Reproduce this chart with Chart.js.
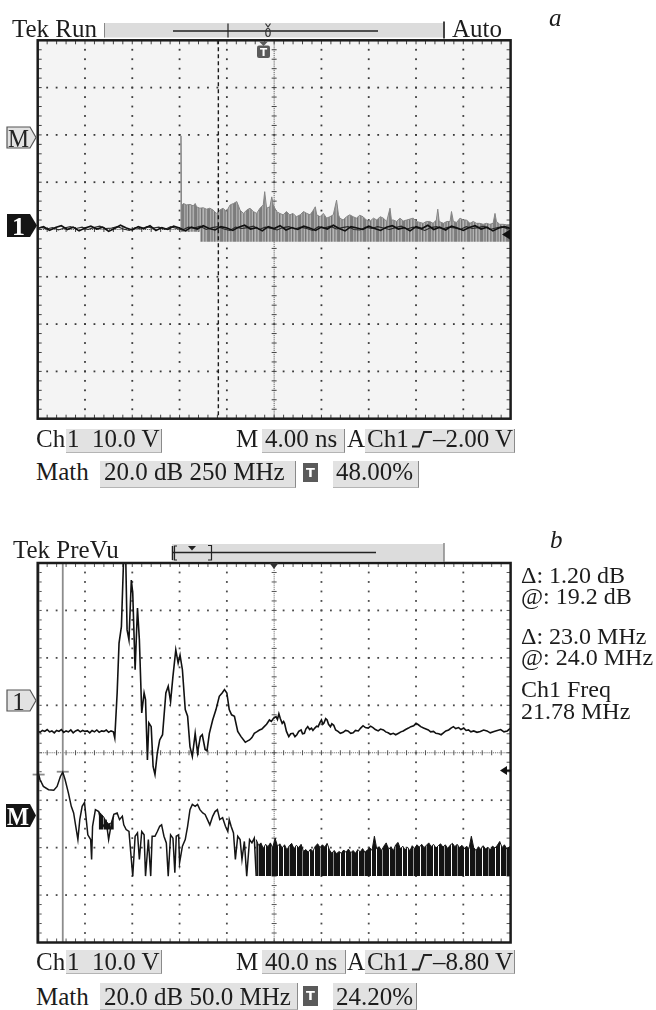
<!DOCTYPE html>
<html>
<head>
<meta charset="utf-8">
<title>Tek scope captures a / b</title>
<script src="https://cdn.jsdelivr.net/npm/chart.js@4.4.1/dist/chart.umd.min.js"></script>
<style>
  html, body { margin: 0; padding: 0; background: #fff; }
  body {
    width: 656px; height: 1010px; position: relative; overflow: hidden;
    font-family: "Liberation Serif", "Times New Roman", serif; color: #1c1c1c;
  }
  canvas { position: absolute; left: 0; }
  .t { position: absolute; font-size: 25px; line-height: 25px; white-space: pre; }
  .r { font-size: 24px; line-height: 24px; }
  .it { font-style: italic; }
  .box {
    position: absolute; background: #e2e2e2;
    border-right: 1.5px solid #8a8a8a; border-bottom: 1px solid #b4b4b4;
  }
  .ticon {
    position: absolute; width: 15px; background: #5a5a5a; color: #fff;
    font: bold 13px "DejaVu Sans", sans-serif; text-align: center;
  }
  svg.deco { position: absolute; left: 0; top: 0; }
</style>
</head>
<body>

<canvas id="scopeA" width="656" height="430" style="top:0"></canvas>
<canvas id="scopeB" width="656" height="440" style="top:520px"></canvas>

<!-- panel a texts -->
<div class="t" style="left:12px;top:16px">Tek Run</div>
<div class="t" style="left:452px;top:16px">Auto</div>
<div class="t it" style="left:549px;top:5px">a</div>

<div class="t" style="left:36px;top:426px">Ch</div>
<div class="box" style="left:66px;top:428.5px;width:95px;height:23px"></div>
<div class="t" style="left:67px;top:426px">1  10.0 V</div>
<div class="t" style="left:236px;top:426px">M</div>
<div class="box" style="left:261.5px;top:428.5px;width:82px;height:23px"></div>
<div class="t" style="left:265px;top:426px">4.00 ns</div>
<div class="t" style="left:347px;top:426px">A</div>
<div class="box" style="left:365px;top:428.5px;width:149px;height:23px"></div>
<div class="t" style="left:367px;top:426px">Ch1</div>
<div class="t" style="left:433px;top:426px">–2.00 V</div>

<div class="t" style="left:36px;top:459px">Math</div>
<div class="box" style="left:100px;top:460.5px;width:195px;height:26px"></div>
<div class="t" style="left:104px;top:459px">20.0 dB 250 MHz</div>
<div class="ticon" style="left:303px;top:463px;height:19px;line-height:19px">T</div>
<div class="box" style="left:333px;top:460.5px;width:85px;height:26px"></div>
<div class="t" style="left:336px;top:459px">48.00%</div>

<!-- panel b texts -->
<div class="t" style="left:13px;top:537px">Tek PreVu</div>
<div class="t it" style="left:550px;top:527px">b</div>

<div class="t r" style="left:521px;top:563px">Δ: 1.20 dB</div>
<div class="t r" style="left:521px;top:583.5px">@: 19.2 dB</div>
<div class="t r" style="left:521px;top:624px">Δ: 23.0 MHz</div>
<div class="t r" style="left:521px;top:645px">@: 24.0 MHz</div>
<div class="t r" style="left:521px;top:677px">Ch1 Freq</div>
<div class="t r" style="left:521px;top:699px">21.78 MHz</div>

<div class="t" style="left:36px;top:949px">Ch</div>
<div class="box" style="left:66px;top:949.5px;width:95px;height:23px"></div>
<div class="t" style="left:67px;top:949px">1  10.0 V</div>
<div class="t" style="left:236px;top:949px">M</div>
<div class="box" style="left:261.5px;top:949.5px;width:83px;height:23px"></div>
<div class="t" style="left:265px;top:949px">40.0 ns</div>
<div class="t" style="left:347px;top:949px">A</div>
<div class="box" style="left:365px;top:949.5px;width:149px;height:23px"></div>
<div class="t" style="left:367px;top:949px">Ch1</div>
<div class="t" style="left:433px;top:949px">–8.80 V</div>

<div class="t" style="left:36px;top:984px">Math</div>
<div class="box" style="left:100px;top:983px;width:197px;height:26px"></div>
<div class="t" style="left:104px;top:984px">20.0 dB 50.0 MHz</div>
<div class="ticon" style="left:303px;top:986px;height:20px;line-height:20px">T</div>
<div class="box" style="left:333px;top:983px;width:83px;height:26px"></div>
<div class="t" style="left:336px;top:984px">24.20%</div>

<svg class="deco" width="656" height="1010" viewBox="0 0 656 1010">
  <!-- panel a record bar -->
  <rect x="104" y="23" width="340" height="14.5" fill="#dcdcdc"/>
  <line x1="104.5" y1="23" x2="104.5" y2="37.5" stroke="#888" stroke-width="1"/>
  <line x1="444" y1="21.5" x2="444" y2="38.5" stroke="#444" stroke-width="2"/>
  <line x1="173" y1="31" x2="378" y2="31" stroke="#222" stroke-width="1.4"/>
  <line x1="228" y1="23.5" x2="228" y2="37.5" stroke="#222" stroke-width="1.2"/>
  <path d="M265.5 23.5 L268 27 L270.5 23.5" stroke="#333" fill="none" stroke-width="1.2"/>
  <ellipse cx="268" cy="32.5" rx="2.2" ry="4" stroke="#333" fill="none" stroke-width="1.2"/>
  <!-- panel a trigger flag -->
  <path d="M259 41.5 H268 L263.5 46 Z" fill="#5a5a5a"/>
  <rect x="257" y="45.5" width="13" height="12.5" rx="2" fill="#5a5a5a"/>
  <text x="263.5" y="56" font-family="DejaVu Sans" font-weight="bold" font-size="10.5" fill="#fff" text-anchor="middle">T</text>
  <!-- panel a channel markers -->
  <polygon points="7,127 30,127 36,137.5 30,148 7,148" fill="#e2e2e2" stroke="#555" stroke-width="1.2"/>
  <text x="18.5" y="146.5" font-family="Liberation Serif" font-size="26" fill="#222" text-anchor="middle" textLength="21" lengthAdjust="spacingAndGlyphs">M</text>
  <polygon points="7,214 30,214 37,225.5 30,237 7,237" fill="#151515"/>
  <text x="18.5" y="234.5" font-family="Liberation Serif" font-weight="bold" font-size="26" fill="#fff" text-anchor="middle">1</text>
  <polygon points="502,234.5 510,229.5 510,239.5" fill="#111"/>
  <!-- panel a trigger slope -->
  <polyline points="412,446.5 419,446.5 424,432 432,432" fill="none" stroke="#222" stroke-width="2"/>

  <!-- panel b record bar -->
  <rect x="172" y="544" width="272" height="17" fill="#dcdcdc"/>
  <line x1="444" y1="543" x2="444" y2="562" stroke="#888" stroke-width="1.5"/>
  <line x1="172" y1="552.5" x2="376" y2="552.5" stroke="#222" stroke-width="1.4"/>
  <line x1="172.5" y1="546" x2="172.5" y2="560" stroke="#222" stroke-width="1.5"/>
  <path d="M177 546 H174.5 V560 H177" stroke="#222" fill="none" stroke-width="1.2"/>
  <path d="M188 546 H196 L192 550.5 Z" fill="#222"/>
  <path d="M208 545.5 H211.5 V560 H208" stroke="#222" fill="none" stroke-width="1.2"/>
  <!-- panel b trigger point -->
  <path d="M269.5 563 H278.5 L274 569 Z" fill="#333"/>
  <!-- panel b channel markers -->
  <polygon points="7,690 30,690 36,700.5 30,711 7,711" fill="#e2e2e2" stroke="#555" stroke-width="1.2"/>
  <text x="18.5" y="709.5" font-family="Liberation Serif" font-size="25" fill="#222" text-anchor="middle">1</text>
  <polygon points="6,804 30,804 36,815.5 30,827 6,827" fill="#151515"/>
  <text x="18" y="825" font-family="Liberation Serif" font-weight="bold" font-size="26" fill="#fff" text-anchor="middle" textLength="22" lengthAdjust="spacingAndGlyphs">M</text>
  <polygon points="500,770.5 507,766 507,775" fill="#111"/>
  <line x1="507" y1="770.5" x2="511" y2="770.5" stroke="#111" stroke-width="2"/>
  <!-- panel b trigger slope -->
  <polyline points="412,969.5 419,969.5 424,955 432,955" fill="none" stroke="#222" stroke-width="2"/>
</svg>

<script>
// All traces are in screen divisions: x 0..10, y -4..+4 (centre line = 0)

// ---- panel a : Ch1 (black) and Math FFT (grey) ----
const ch1aStep = 0.125;
const ch1aV1 = [
  0.02, 0.06, -0.02, 0.04, 0.08, 0.00, 0.05, -0.03, 0.03, 0.07,
  0.01, 0.05, -0.04, 0.02, 0.09, 0.03, -0.01, 0.06, 0.02, 0.08,
  -0.02, 0.04, 0.00, 0.07, 0.03, -0.03, 0.05, 0.01, 0.08, 0.02,
  -0.01, 0.06, 0.03, -0.02, 0.05, 0.09, 0.01, 0.04, -0.03, 0.06,
  0.02, 0.08, -0.01, 0.04, 0.00, 0.07, 0.03, -0.02, 0.05, 0.01,
  0.09, 0.02, -0.03, 0.06, 0.03, 0.00, 0.07, 0.02, -0.02, 0.05,
  0.08, 0.01, 0.04, -0.03, 0.06, 0.02, 0.09, 0.00, 0.05, -0.01,
  0.07, 0.03, -0.02, 0.04, 0.08, 0.01, 0.05, -0.03, 0.03, 0.06,
  0.02
];
const ch1aV2 = [
  0.05, 0.01, 0.04, -0.01, 0.03, 0.06, 0.02, 0.05, 0.00, 0.04,
  0.07, 0.02, 0.03, 0.06, 0.01, -0.02, 0.04, 0.01, 0.06, 0.03,
  0.05, 0.00, 0.06, 0.02, -0.01, 0.05, 0.03, 0.07, 0.00, 0.04,
  0.06, 0.01, -0.02, 0.05, 0.02, 0.04, 0.07, 0.00, 0.05, 0.02,
  -0.01, 0.04, 0.06, 0.01, 0.05, 0.02, -0.02, 0.06, 0.03, 0.07,
  0.01, 0.04, 0.06, 0.00, -0.01, 0.05, 0.02, 0.06, 0.03, 0.00,
  0.04, 0.07, 0.01, 0.05, 0.02, -0.02, 0.04, 0.06, 0.01, 0.05,
  0.03, 0.00, 0.06, 0.02, 0.04, 0.07, 0.00, 0.03, 0.06, 0.01,
  0.04
];
const mathAFloor = [-0.05, -0.26];
const mathAX1 = [3.01, 3.03, 3.04, 3.08, 3.15, 3.22, 3.29, 3.33, 3.36, 3.43];
const mathAV1 = [-0.05, 1.98, 0.50, 0.55, 0.52, 0.53, 0.50, 0.55, 0.48, 0.45];
const mathAX2 = [
  3.43, 3.50, 3.57, 3.64, 3.71, 3.78, 3.85, 3.92, 3.99, 4.07,
  4.14, 4.21, 4.28, 4.35, 4.42, 4.49, 4.56, 4.63, 4.70, 4.77,
  4.80, 4.84, 4.91, 4.95, 4.98,
  5.05, 5.12, 5.19, 5.26, 5.33, 5.40, 5.47, 5.55, 5.62, 5.69, 5.76, 5.83,
  5.87, 5.90, 5.97, 6.04, 6.11, 6.18, 6.25, 6.32, 6.36, 6.39,
  6.46, 6.53, 6.60, 6.67, 6.74, 6.81, 6.88, 6.95, 7.02, 7.10,
  7.17, 7.24, 7.31, 7.38, 7.45, 7.48, 7.52, 7.59, 7.66, 7.73,
  7.80, 7.87, 7.94, 8.01, 8.08, 8.15, 8.22, 8.29, 8.36, 8.43,
  8.46, 8.49, 8.58, 8.65, 8.72, 8.75, 8.79, 8.86, 8.93, 9.00,
  9.07, 9.14, 9.21, 9.28, 9.35, 9.42, 9.49, 9.56, 9.63, 9.67,
  9.70, 9.77, 9.84, 9.91, 10.0
];
const mathAV2 = [
  0.45, 0.46, 0.43, 0.45, 0.41, 0.34, 0.41, 0.45, 0.38, 0.52,
  0.55, 0.59, 0.41, 0.34, 0.41, 0.45, 0.38, 0.34, 0.45, 0.52,
  0.80, 0.45, 0.48, 0.69, 0.52,
  0.38, 0.34, 0.31, 0.38, 0.31, 0.34, 0.27, 0.31, 0.38, 0.34, 0.31, 0.41,
  0.48, 0.31, 0.27, 0.34, 0.24, 0.27, 0.31, 0.62, 0.31, 0.24,
  0.20, 0.27, 0.31, 0.27, 0.24, 0.30, 0.27, 0.20, 0.17, 0.24,
  0.20, 0.27, 0.24, 0.17, 0.45, 0.20, 0.20, 0.17, 0.24, 0.18,
  0.20, 0.22, 0.24, 0.17, 0.15, 0.13, 0.17, 0.17, 0.13, 0.20,
  0.43, 0.17, 0.13, 0.17, 0.17, 0.38, 0.17, 0.15, 0.24, 0.20,
  0.20, 0.13, 0.17, 0.13, 0.13, 0.11, 0.13, 0.11, 0.13, 0.34,
  0.17, 0.11, 0.11, 0.10, 0.10
];
const triggerLineA = 3.82;

// ---- panel b : Ch1 ring-down (upper) and Math FFT (lower) ----
const ch1bT = [
  0.00, 0.05, 0.10, 0.15, 0.20, 0.25, 0.30, 0.35, 0.40, 0.45,
  0.50, 0.55, 0.60, 0.65, 0.70, 0.75, 0.80, 0.85, 0.90, 0.95,
  1.00, 1.05, 1.10, 1.15, 1.20, 1.25, 1.30, 1.35, 1.40, 1.45,
  1.50, 1.55,
  1.60, 1.63, 1.68, 1.72, 1.77, 1.82, 1.86, 1.89, 1.93, 1.98,
  2.01, 2.06, 2.11, 2.15, 2.20, 2.25, 2.28, 2.32, 2.35, 2.40,
  2.44, 2.48, 2.53, 2.58, 2.64, 2.71, 2.76, 2.81, 2.86, 2.92,
  2.97, 3.01, 3.06, 3.12, 3.17, 3.22, 3.27, 3.33, 3.38, 3.44,
  3.48, 3.54, 3.58, 3.63, 3.70, 3.77, 3.84, 3.90, 3.95, 4.00,
  4.05, 4.10, 4.16, 4.23, 4.30,
  4.39, 4.44, 4.48, 4.53, 4.58, 4.63, 4.69, 4.74, 4.79, 4.84,
  4.90, 4.94, 4.99, 5.04, 5.07, 5.10, 5.13, 5.17, 5.20, 5.22,
  5.26, 5.31, 5.35, 5.40, 5.44, 5.48, 5.52, 5.57, 5.60, 5.64,
  5.67, 5.71, 5.75, 5.79, 5.82, 5.86, 5.90, 5.93, 5.97, 6.00,
  6.03, 6.05, 6.09, 6.12, 6.15, 6.19, 6.22, 6.26, 6.30, 6.35,
  6.40, 6.46, 6.51, 6.56, 6.62, 6.67, 6.72, 6.78, 6.83, 6.88,
  6.93, 6.99, 7.04, 7.09, 7.14, 7.20, 7.25, 7.31, 7.36, 7.41,
  7.46, 7.52, 7.57, 7.63, 7.68, 7.73, 7.78, 7.84, 7.89, 7.95,
  8.00, 8.05, 8.10, 8.16, 8.21, 8.26, 8.31, 8.37, 8.42, 8.48,
  8.53, 8.58, 8.63, 8.69, 8.74, 8.79, 8.84, 8.90, 8.95, 9.01,
  9.06, 9.11, 9.16, 9.22, 9.29, 9.36, 9.43, 9.50, 9.57, 9.65,
  9.72, 9.79, 9.86, 9.93, 10.00
];
const ch1bV = [
  0.46, 0.43, 0.47, 0.45, 0.49, 0.44, 0.46, 0.42, 0.47, 0.45,
  0.49, 0.43, 0.46, 0.44, 0.48, 0.42, 0.46, 0.48, 0.44, 0.47,
  0.45, 0.46, 0.42, 0.47, 0.44, 0.48, 0.43, 0.46, 0.45, 0.48,
  0.43, 0.46,
  0.44, 0.31, 1.26, 2.31, 2.66, 4.20, 4.20, 2.59, 2.38, 3.64,
  3.36, 1.75, 3.05, 2.38, 0.84, 1.26, 1.12, -0.15, 0.63, 0.55,
  -0.29, -0.46, 0.00, 0.27, 0.38, 1.26, 1.40, 1.08, 1.61, 2.17,
  1.89, 2.06, 1.75, 0.91, 0.77, 0.13, -0.08, 0.41, 0.00, 0.34,
  0.38, 0.07, 0.04, 0.41, 0.69, 0.91, 1.19, 1.26, 1.33, 1.26,
  0.91, 0.80, 0.77, 0.45, 0.34,
  0.22, 0.25, 0.27, 0.32, 0.41, 0.44, 0.48, 0.50, 0.55, 0.60,
  0.69, 0.66, 0.73, 0.76, 0.70, 0.82, 0.72, 0.62, 0.66, 0.62,
  0.45, 0.34, 0.40, 0.41, 0.34, 0.38, 0.45, 0.48, 0.40, 0.41,
  0.50, 0.55, 0.49, 0.52, 0.47, 0.52, 0.56, 0.55, 0.64, 0.69,
  0.60, 0.62, 0.72, 0.69, 0.60, 0.55, 0.61, 0.58, 0.48, 0.45,
  0.41, 0.43, 0.47, 0.46, 0.41, 0.42, 0.47, 0.46, 0.52, 0.57,
  0.53, 0.52, 0.56, 0.53, 0.49, 0.46, 0.50, 0.48, 0.44, 0.42,
  0.39, 0.41, 0.38, 0.41, 0.44, 0.46, 0.49, 0.52, 0.55, 0.57,
  0.62, 0.59, 0.55, 0.52, 0.50, 0.48, 0.44, 0.45, 0.41, 0.40,
  0.38, 0.42, 0.46, 0.48, 0.52, 0.55, 0.51, 0.53, 0.49, 0.52,
  0.47, 0.48, 0.44, 0.46, 0.43, 0.45, 0.48, 0.46, 0.42, 0.45,
  0.47, 0.49, 0.44, 0.46, 0.52
];
const mathBX1 = [
  0.00, 0.02, 0.05, 0.12, 0.23, 0.34, 0.41, 0.48, 0.53, 0.58,
  0.65, 0.71, 0.76, 0.80, 0.85, 0.89, 0.94, 0.99, 1.02, 1.06,
  1.12, 1.14, 1.16, 1.22, 1.29, 1.35, 1.40, 1.45, 1.50, 1.56,
  1.61, 1.68, 1.73, 1.79, 1.82, 1.87, 1.93, 1.98, 2.01, 2.06,
  2.11, 2.15, 2.20, 2.25, 2.28, 2.34, 2.39, 2.42, 2.48, 2.53,
  2.58, 2.62, 2.67, 2.72, 2.76, 2.81, 2.86, 2.90, 2.93, 2.98,
  3.00, 3.06, 3.12, 3.17, 3.22, 3.27, 3.33, 3.38, 3.43, 3.49,
  3.54, 3.59, 3.64, 3.70, 3.75, 3.80, 3.85, 3.91, 3.97, 4.02,
  4.05, 4.09, 4.14, 4.18, 4.23, 4.28, 4.32, 4.37, 4.42, 4.48,
  4.53, 4.58, 4.62
];
const mathBV1 = [
  -0.84, -0.46, -0.57, -0.71, -0.78, -0.79, -0.71, -0.50, -0.41, -0.57,
  -0.85, -1.13, -1.27, -1.52, -1.83, -1.41, -1.13, -1.05, -1.34, -1.73,
  -1.83, -2.25, -1.55, -1.20, -1.24, -1.48, -1.55, -1.45, -1.83, -1.48,
  -1.30, -1.27, -1.41, -1.34, -1.52, -1.62, -1.66, -2.25, -2.60, -1.76,
  -1.69, -2.25, -1.66, -1.73, -2.60, -1.83, -2.60, -1.76, -1.76, -1.66,
  -1.55, -1.52, -1.76, -1.90, -2.60, -1.73, -1.80, -2.53, -1.76, -1.73,
  -2.32, -1.97, -1.83, -1.55, -1.20, -1.09, -1.13, -1.09, -1.20, -1.27,
  -1.30, -1.41, -1.52, -1.34, -1.24, -1.20, -1.41, -1.37, -1.55, -1.66,
  -1.41, -1.55, -1.69, -2.25, -1.76, -1.83, -2.25, -1.87, -2.60, -1.83,
  -1.90, -1.80, -2.60
];
// dark blocks under the Math trace where it flickers between levels
const mathBBlockX = [1.29, 1.35, 1.40, 1.45, 1.50, 1.56, 1.61];
const mathBBlockTop = [-1.24, -1.30, -1.36, -1.45, -1.50, -1.48, -1.34];
const mathBBlockBottom = -1.62;
// noise floor band: top envelope sampled every 0.05 div from 4.62, floor at -2.60
const mathBBandStart = 4.62;
const mathBBandStep = 0.05;
const mathBFloor = -2.60;
const mathBBand = [
  -1.83, -1.95, -1.90, -2.02, -1.93, -1.98, -1.90, -2.00, -1.80, -1.97,
  -1.92, -2.01, -1.94, -2.05, -1.96, -1.91, -2.03, -1.95, -2.00, -1.93,
  -2.08, -2.04, -2.10, -2.03, -2.08, -1.97, -1.92, -2.00, -1.94, -1.99,
  -1.91, -2.05, -2.12, -2.06, -2.13, -2.08, -2.12, -2.05, -2.10, -2.03,
  -2.11, -2.06, -2.12, -2.04, -2.09, -2.02, -2.10, -2.05, -2.00, -2.06,
  -1.76, -2.03, -1.98, -2.06, -1.97, -1.90, -2.04, -1.98, -2.07, -1.94,
  -1.89, -2.03, -1.97, -2.05, -1.99, -2.07, -1.96, -2.02, -1.94, -1.99,
  -1.93, -2.00, -1.95, -1.90, -1.98, -1.93, -2.01, -1.96, -1.92, -1.99,
  -1.94, -2.02, -1.95, -1.91, -1.98, -1.93, -2.00, -1.95, -2.03, -1.97,
  -2.02, -1.76, -2.00, -2.06, -1.98, -2.04, -1.96, -2.03, -1.99, -2.05,
  -1.97, -2.01, -1.95, -1.87, -2.00, -1.94, -2.03, -1.98, -2.00
];
// cursors (1 MHz and 24 MHz) and the levels they read on the Math trace
const cursorX = [0.02, 0.53];
const cursorLevel = [-0.46, -0.40];

function pts(xs, ys) {
  return ys.map((v, i) => ({ x: xs[i], y: v }));
}
function sampled(x0, step, ys) {
  return ys.map((v, i) => ({ x: x0 + i * step, y: v }));
}

// vertical stripe pattern, looks like the scope's dense sample lines
function stripes(cols) {
  const c = document.createElement('canvas');
  c.width = cols.length;
  c.height = 1;
  const g = c.getContext('2d');
  cols.forEach((col, i) => { g.fillStyle = col; g.fillRect(i, 0, 1, 1); });
  return g.createPattern(c, 'repeat');
}

// oscilloscope graticule, frame and cursor marks
const scopeGrid = {
  id: 'scopeGrid',
  beforeDraw(chart, args, o) {
    const { ctx, chartArea: a } = chart;
    ctx.save();
    ctx.fillStyle = o.background;
    ctx.fillRect(a.left, a.top, a.right - a.left, a.bottom - a.top);
    ctx.restore();
  },
  beforeDatasetsDraw(chart, args, o) {
    const { ctx, chartArea: a, scales: { x, y } } = chart;
    const px = v => x.getPixelForValue(v);
    const py = v => y.getPixelForValue(v);
    ctx.save();
    ctx.fillStyle = o.dotColor;
    for (let i = 1; i < 10; i++) {
      if (i === 5) continue;
      for (let k = 1; k < 40; k++) ctx.fillRect(px(i) - 0.9, py(-4 + k / 5) - 0.9, 1.8, 1.8);
    }
    for (let j = -3; j <= 3; j++) {
      if (j === 0) continue;
      for (let k = 1; k < 50; k++) ctx.fillRect(px(k / 5) - 0.9, py(j) - 0.9, 1.8, 1.8);
    }
    // centre cross: fine dots plus minor ticks
    ctx.fillStyle = o.fineColor;
    for (let k = 1; k < 250; k++) ctx.fillRect(px(k / 25) - 0.5, py(0) - 0.5, 1, 1);
    for (let k = 1; k < 200; k++) ctx.fillRect(px(5) - 0.5, py(-4 + k / 25) - 0.5, 1, 1);
    ctx.strokeStyle = o.tickColor;
    ctx.lineWidth = 1;
    ctx.beginPath();
    for (let k = 1; k < 50; k++) {
      ctx.moveTo(px(k / 5), py(0) - 2.5); ctx.lineTo(px(k / 5), py(0) + 2.5);
      ctx.moveTo(px(k / 5), a.top); ctx.lineTo(px(k / 5), a.top + 4);
      ctx.moveTo(px(k / 5), a.bottom); ctx.lineTo(px(k / 5), a.bottom - 4);
    }
    for (let k = 1; k < 40; k++) {
      const yy = py(-4 + k / 5);
      ctx.moveTo(px(5) - 2.5, yy); ctx.lineTo(px(5) + 2.5, yy);
      ctx.moveTo(a.left, yy); ctx.lineTo(a.left + 4, yy);
      ctx.moveTo(a.right, yy); ctx.lineTo(a.right - 4, yy);
    }
    ctx.stroke();
    // cursor lines
    (o.cursors || []).forEach(c => {
      ctx.strokeStyle = c.color;
      ctx.lineWidth = c.width;
      ctx.beginPath();
      ctx.moveTo(px(c.x), a.top);
      ctx.lineTo(px(c.x), a.bottom);
      ctx.stroke();
      if (c.level !== undefined) {
        ctx.beginPath();
        ctx.moveTo(px(c.x) - 6, py(c.level));
        ctx.lineTo(px(c.x) + 6, py(c.level));
        ctx.stroke();
      }
    });
    ctx.restore();
  },
  afterDatasetsDraw(chart, args, o) {
    const { ctx, chartArea: a, scales: { x } } = chart;
    ctx.save();
    if (o.dashedX !== undefined) {
      ctx.strokeStyle = '#1a1a1a';
      ctx.lineWidth = 1.4;
      ctx.setLineDash([4, 3]);
      ctx.beginPath();
      ctx.moveTo(x.getPixelForValue(o.dashedX), a.top);
      ctx.lineTo(x.getPixelForValue(o.dashedX), a.bottom);
      ctx.stroke();
      ctx.setLineDash([]);
    }
    ctx.strokeStyle = '#1b1b1b';
    ctx.lineWidth = 2.5;
    ctx.strokeRect(a.left, a.top, a.right - a.left, a.bottom - a.top);
    ctx.restore();
  }
};

function scopeChart(id, datasets, padding, grid) {
  return new Chart(document.getElementById(id), {
    type: 'line',
    data: { datasets: datasets },
    options: {
      responsive: false,
      animation: false,
      devicePixelRatio: 1,
      layout: { padding: padding },
      scales: {
        x: { type: 'linear', min: 0, max: 10, display: false },
        y: { type: 'linear', min: -4, max: 4, display: false }
      },
      elements: { point: { radius: 0 }, line: { tension: 0 } },
      plugins: {
        legend: { display: false },
        tooltip: { enabled: false },
        scopeGrid: grid
      }
    },
    plugins: [scopeGrid]
  });
}

document.addEventListener('DOMContentLoaded', function() {
  const greyLines = stripes(['#7c7c7c', '#7c7c7c', '#a8a8a8', '#8c8c8c', '#8c8c8c', '#b2b2b2',
    '#747474', '#9c9c9c', '#b6b6b6', '#868686', '#969696', '#aeaeae', '#808080']);
  const blackLines = stripes(['#141414', '#141414', '#141414', '#141414', '#ffffff', '#141414',
    '#141414', '#141414', '#141414', '#141414', '#9a9a9a', '#141414', '#141414', '#141414',
    '#141414', '#141414', '#141414', '#ffffff', '#141414', '#141414', '#141414', '#141414',
    '#141414', '#8c8c8c', '#141414', '#141414', '#141414', '#141414', '#141414', '#141414', '#ffffff']);

  // Panel a
  scopeChart('scopeA', [
    { data: sampled(0, ch1aStep, ch1aV1), borderColor: '#111', borderWidth: 1.6, clip: 0, order: 0 },
    { data: sampled(ch1aStep / 2, ch1aStep, ch1aV2), borderColor: '#2a2a2a', borderWidth: 1.1, clip: 0, order: 1 },
    { data: pts(mathAX1, mathAV1), borderColor: '#858585', borderWidth: 1,
      backgroundColor: greyLines, fill: { value: mathAFloor[0] }, clip: 0, order: 2 },
    { data: pts(mathAX2, mathAV2), borderColor: '#858585', borderWidth: 1,
      backgroundColor: greyLines, fill: { value: mathAFloor[1] }, clip: 0, order: 3 }
  ], { left: 37.7, right: 145.4, top: 40.3, bottom: 11.3 }, {
    background: '#f4f4f4', dotColor: '#3a3a3a', fineColor: '#555', tickColor: '#444',
    dashedX: triggerLineA
  });

  // Panel b
  scopeChart('scopeB', [
    { data: pts(ch1bT, ch1bV), borderColor: '#111', borderWidth: 1.6, clip: 0, order: 0 },
    { data: pts(mathBX1, mathBV1), borderColor: '#151515', borderWidth: 1.5, clip: 0, order: 1 },
    { data: pts(mathBBlockX, mathBBlockTop), borderColor: '#151515', borderWidth: 1,
      backgroundColor: blackLines, fill: { value: mathBBlockBottom }, clip: 0, order: 2 },
    { data: sampled(mathBBandStart, mathBBandStep, mathBBand), borderColor: '#151515', borderWidth: 1,
      backgroundColor: blackLines, fill: { value: mathBFloor }, clip: 0, order: 3 }
  ], { left: 37.7, right: 145.4, top: 43, bottom: 17.5 }, {
    background: '#ffffff', dotColor: '#4a4a4a', fineColor: '#6a6a6a', tickColor: '#555',
    cursors: cursorX.map((cx, i) => ({ x: cx, level: cursorLevel[i], color: '#8c8c8c', width: 1.8 }))
  });
});
</script>
</body>
</html>
